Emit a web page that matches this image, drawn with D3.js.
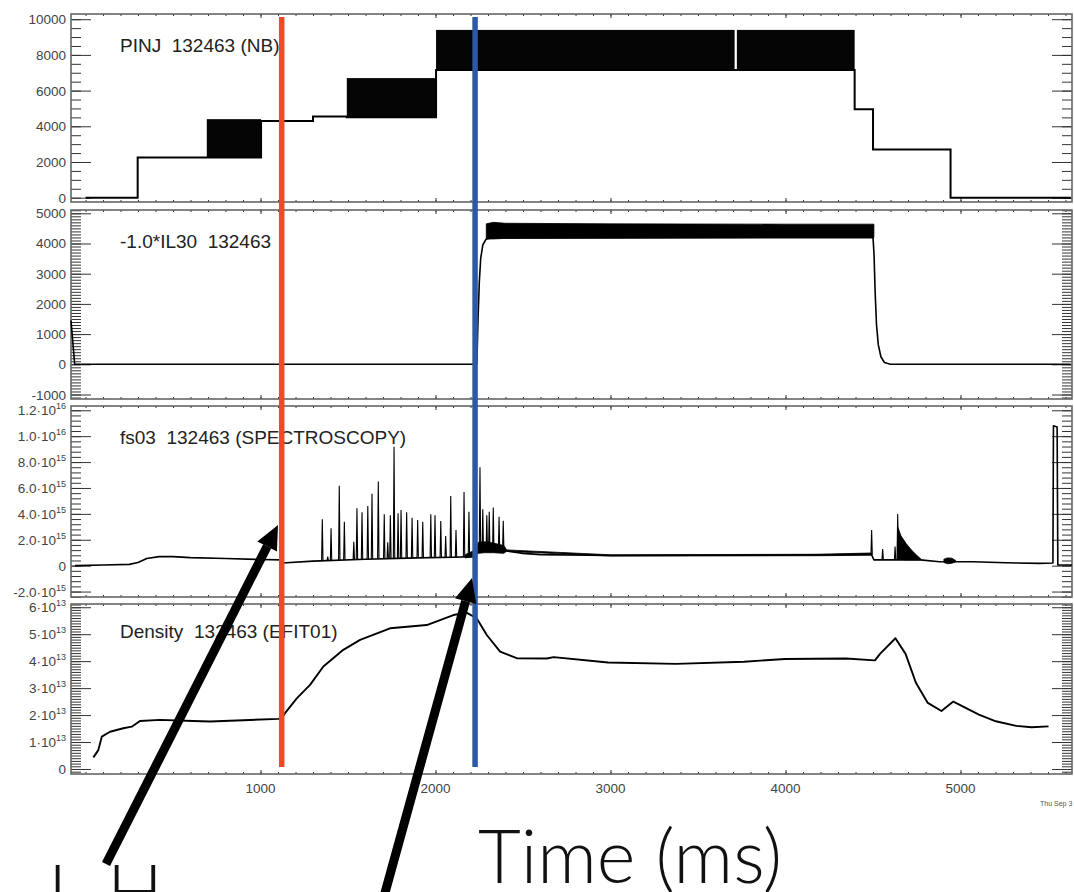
<!DOCTYPE html>
<html>
<head>
<meta charset="utf-8">
<script src="https://cdn.jsdelivr.net/npm/d3@7"></script>
<style>
body { margin: 0; background: #fff; overflow: hidden; }
svg { display: block; font-family: "Liberation Sans", Arial, sans-serif; }
</style>
</head>
<body>
<div id="chart"></div>
<script>
// ---- time axis
var xDomain = [-83, 5637];
var xTickVals = [1000, 2000, 3000, 4000, 5000];
var xTickText = ["1000", "2000", "3000", "4000", "5000"];

// ---- PINJ (NB) : step segments, low == high is a plain step, otherwise a modulated block
var pinjStart = [0, 298, 693, 1003, 1300, 1493, 2003, 3722, 4395, 4500, 4943];
var pinjEnd   = [298, 693, 1003, 1300, 1493, 2003, 3709, 4395, 4500, 4943, 5630];
var pinjLow   = [0, 2250, 2250, 4300, 4550, 4500, 7150, 7150, 4950, 2700, 0];
var pinjHigh  = [0, 2250, 4400, 4300, 4550, 6700, 9400, 9400, 4950, 2700, 0];
var p1TickVals = [0, 2000, 4000, 6000, 8000, 10000];
var p1TickText = ["0", "2000", "4000", "6000", "8000", "10000"];

// ---- -1.0*IL30
var il30T = [-83, -62, 0, 1000, 2000, 2236, 2243, 2250, 2258, 2270, 2290, 2320, 4500, 4506, 4512, 4520, 4530, 4545, 4565, 4600, 5630];
var il30V = [1450, 0, 0, 0, 0, 0, 1500, 2700, 3500, 3950, 4150, 4180, 4200, 3600, 2400, 1300, 650, 250, 60, 0, 0];
var il30BandT  = [2290, 2330, 2400, 3000, 4000, 4505];
var il30BandLo = [4150, 4150, 4170, 4180, 4200, 4200];
var il30BandHi = [4650, 4700, 4670, 4650, 4640, 4640];
var p2TickVals = [-1000, 0, 1000, 2000, 3000, 4000, 5000];
var p2TickText = ["-1000", "0", "1000", "2000", "3000", "4000", "5000"];

// ---- fs03 (SPECTROSCOPY)
var fsT = [-60, 100, 250, 300, 350, 420, 500, 600, 800, 1000, 1118, 1124, 1300, 1600, 1900, 2100, 2226, 2240, 2400, 2500, 2600, 3000, 3500, 4000, 4300, 4490, 4505, 4600, 4770, 4880, 5070, 5260, 5450, 5528, 5531, 5552, 5556, 5637];
var fsV = [0, 0.05e15, 0.1e15, 0.25e15, 0.55e15, 0.7e15, 0.7e15, 0.62e15, 0.55e15, 0.48e15, 0.45e15, 0.2e15, 0.35e15, 0.5e15, 0.6e15, 0.65e15, 0.7e15, 1.2e15, 1.15e15, 0.95e15, 0.85e15, 0.78e15, 0.8e15, 0.82e15, 0.85e15, 0.9e15, 0.45e15, 0.45e15, 0.45e15, 0.3e15, 0.3e15, 0.22e15, 0.18e15, 0.2e15, 1.08e16, 1.07e16, 0.05e15, 0.05e15];
var spikeT = [1353, 1384, 1403, 1450, 1479, 1533, 1551, 1580, 1613, 1637, 1673, 1707, 1727, 1742, 1763, 1786, 1803, 1835, 1866, 1898, 1927, 1973, 1997, 2030, 2058, 2087, 2117, 2163, 2191, 2254, 2270, 2293, 2307, 2330, 2363, 2387, 4492, 4555, 4626, 4641];
var spikePeak = [3.58e15, 0.7e15, 2.89e15, 6.18e15, 3.4e15, 1.85e15, 4.43e15, 4.12e15, 4.61e15, 5.56e15, 6.49e15, 3.97e15, 1.8e15, 3.9e15, 9.19e15, 4.05e15, 4.3e15, 4.12e15, 3.7e15, 3.53e15, 3.4e15, 3.97e15, 3.9e15, 3.45e15, 2.29e15, 5.38e15, 2.76e15, 5.69e15, 4.17e15, 7.6e15, 4.35e15, 3.9e15, 4.17e15, 4.5e15, 3.78e15, 3.47e15, 2.76e15, 1.29e15, 1.47e15, 3.99e15];
var fsBandT  = [2170, 2226, 2245, 2280, 2330, 2390, 2405];
var fsBandLo = [0.6e15, 0.7e15, 0.95e15, 1.0e15, 1.0e15, 0.95e15, 1.1e15];
var fsBandHi = [0.85e15, 1.2e15, 1.8e15, 1.85e15, 1.75e15, 1.55e15, 1.25e15];
var fsDecayT  = [4641, 4660, 4690, 4720, 4750, 4775];
var fsDecayLo = [0.5e15, 0.5e15, 0.45e15, 0.45e15, 0.45e15, 0.45e15];
var fsDecayHi = [3.0e15, 2.3e15, 1.7e15, 1.2e15, 0.8e15, 0.5e15];
var fsBlobT  = [4905, 4925, 4950, 4972];
var fsBlobLo = [0.25e15, 0.15e15, 0.18e15, 0.3e15];
var fsBlobHi = [0.5e15, 0.6e15, 0.58e15, 0.4e15];
var fsNoiseT  = [2400, 3000, 3600, 4200, 4490];
var fsNoiseLo = [1.1e15, 0.74e15, 0.75e15, 0.77e15, 0.8e15];
var fsNoiseHi = [1.22e15, 0.84e15, 0.86e15, 0.88e15, 0.98e15];
var p3TickVals = [-2e15, 0, 2e15, 4e15, 6e15, 8e15, 1e16, 1.2e16];
var p3TickMant = ["-2.0\u00b710", "0", "2.0\u00b710", "4.0\u00b710", "6.0\u00b710", "8.0\u00b710", "1.0\u00b710", "1.2\u00b710"];
var p3TickExp  = ["15", "", "15", "15", "15", "15", "16", "16"];

// ---- Density (EFIT01)
var denT = [45, 73, 93, 140, 216, 264, 311, 426, 616, 711, 902, 1102, 1121, 1140, 1207, 1283, 1359, 1473, 1569, 1740, 1950, 2102, 2177, 2235, 2293, 2369, 2464, 2635, 2675, 2986, 3374, 3763, 3997, 4346, 4511, 4540, 4628, 4686, 4745, 4813, 4891, 4959, 5105, 5202, 5318, 5406, 5503];
var denV = [0.43e13, 0.7e13, 1.2e13, 1.38e13, 1.51e13, 1.57e13, 1.78e13, 1.82e13, 1.78e13, 1.76e13, 1.81e13, 1.86e13, 1.88e13, 2.07e13, 2.62e13, 3.12e13, 3.8e13, 4.42e13, 4.79e13, 5.22e13, 5.34e13, 5.71e13, 5.8e13, 5.59e13, 4.97e13, 4.35e13, 4.11e13, 4.1e13, 4.15e13, 3.95e13, 3.9e13, 3.98e13, 4.08e13, 4.1e13, 4.03e13, 4.27e13, 4.85e13, 4.27e13, 3.2e13, 2.45e13, 2.15e13, 2.5e13, 2.02e13, 1.77e13, 1.6e13, 1.55e13, 1.58e13];
var p4TickVals = [0, 1e13, 2e13, 3e13, 4e13, 5e13, 6e13];
var p4TickMant = ["0", "1\u00b710", "2\u00b710", "3\u00b710", "4\u00b710", "5\u00b710", "6\u00b710"];
var p4TickExp  = ["", "13", "13", "13", "13", "13", "13"];

// ---- markers (L-H transition, blue event)
var markerT = [1121, 2226];
var markerColor = ["#ef4a24", "#2d58a6"];

var W = 1074, H = 892;
var plotL = 71, plotR = 1072;

var svg = d3.select("#chart")
    .append("svg")
    .attr("width", W)
    .attr("height", H);

var x = d3.scaleLinear().domain(xDomain).range([plotL, plotR]);

var panels = [
    { y0: 14,  y1: 202, domain: [-241, 10291],        minor: 500,  vals: p1TickVals, mant: p1TickText, exp: null, label: "PINJ  132463 (NB)", labelY: 52 },
    { y0: 210, y1: 399, domain: [-1149, 5109],        minor: 100,  vals: p2TickVals, mant: p2TickText, exp: null, label: "-1.0*IL30  132463", labelY: 248 },
    { y0: 406, y1: 597, domain: [-2.42e15, 1.233e16], minor: 4e14, vals: p3TickVals, mant: p3TickMant, exp: p3TickExp, label: "fs03  132463 (SPECTROSCOPY)", labelY: 444 },
    { y0: 604, y1: 774, domain: [-1.86e12, 6.12e13], minor: 1e12, vals: p4TickVals, mant: p4TickMant, exp: p4TickExp, label: "Density  132463 (EFIT01)", labelY: 638 }
];

var xMinor = d3.range(0, xDomain[1], 100);

function noDomain(sel) { sel.select(".domain").remove(); }

panels.forEach(function (p) {
    p.y = d3.scaleLinear().domain(p.domain).range([p.y1, p.y0]);
    var g = svg.append("g").attr("class", "frame").attr("color", "#333");
    var minorVals = d3.range(Math.ceil(p.domain[0] / p.minor) * p.minor, p.domain[1], p.minor);

    // y ticks pointing inward, on both sides
    g.append("g").attr("transform", "translate(" + plotL + ",0)")
        .call(d3.axisRight(p.y).tickValues(minorVals).tickSize(10).tickFormat(""))
        .call(noDomain);
    g.append("g").attr("transform", "translate(" + plotL + ",0)")
        .call(d3.axisRight(p.y).tickValues(p.vals).tickSize(20).tickFormat(""))
        .call(noDomain);
    g.append("g").attr("transform", "translate(" + plotR + ",0)")
        .call(d3.axisLeft(p.y).tickValues(minorVals).tickSize(10).tickFormat(""))
        .call(noDomain);
    g.append("g").attr("transform", "translate(" + plotR + ",0)")
        .call(d3.axisLeft(p.y).tickValues(p.vals).tickSize(20).tickFormat(""))
        .call(noDomain);

    // x ticks on top and bottom edges
    g.append("g").attr("transform", "translate(0," + p.y0 + ")")
        .call(d3.axisBottom(x).tickValues(xMinor).tickSize(2).tickFormat(""))
        .call(noDomain);
    g.append("g").attr("transform", "translate(0," + p.y0 + ")")
        .call(d3.axisBottom(x).tickValues(xTickVals).tickSize(4).tickFormat(""))
        .call(noDomain);
    g.append("g").attr("transform", "translate(0," + p.y1 + ")")
        .call(d3.axisTop(x).tickValues(xMinor).tickSize(2).tickFormat(""))
        .call(noDomain);
    g.append("g").attr("transform", "translate(0," + p.y1 + ")")
        .call(d3.axisTop(x).tickValues(xTickVals).tickSize(4).tickFormat(""))
        .call(noDomain);

    p.vals.forEach(function (v, i) {
        var t = g.append("text")
            .attr("x", 66)
            .attr("y", p.y(v) + 5)
            .attr("text-anchor", "end")
            .attr("font-size", 13.5)
            .attr("fill", "#444");
        t.append("tspan").text(p.mant[i]);
        if (p.exp && p.exp[i]) {
            t.append("tspan").attr("font-size", 9).attr("dy", -6).text(p.exp[i]);
        }
    });

    g.append("rect")
        .attr("x", plotL).attr("y", p.y0)
        .attr("width", plotR - plotL).attr("height", p.y1 - p.y0)
        .attr("fill", "none").attr("stroke", "#666").attr("stroke-width", 1.6);

    g.append("text")
        .attr("x", 120)
        .attr("y", p.labelY)
        .attr("font-size", 19)
        .attr("fill", "#222")
        .style("white-space", "pre")
        .text(p.label);
});

// x tick labels under the last panel
xTickVals.forEach(function (v, i) {
    svg.append("text")
        .attr("x", x(v))
        .attr("y", 793)
        .attr("text-anchor", "middle")
        .attr("font-size", 13.5)
        .attr("fill", "#444")
        .text(xTickText[i]);
});

svg.append("text")
    .attr("x", 1040)
    .attr("y", 806)
    .attr("font-size", 7)
    .attr("fill", "#555")
    .text("Thu Sep 3");

function zip(ts, vs) {
    return ts.map(function (t, i) { return [t, vs[i]]; });
}

function drawLine(p, ts, vs, w) {
    var line = d3.line().x(function (d) { return x(d[0]); }).y(function (d) { return p.y(d[1]); });
    svg.append("path")
        .datum(zip(ts, vs))
        .attr("d", line)
        .attr("fill", "none")
        .attr("stroke", "#000")
        .attr("stroke-width", w)
        .attr("stroke-linejoin", "round");
}

function drawBand(p, ts, lo, hi) {
    var area = d3.area()
        .x(function (d) { return x(d[0]); })
        .y0(function (d) { return p.y(d[1]); })
        .y1(function (d) { return p.y(d[2]); });
    svg.append("path")
        .datum(ts.map(function (t, i) { return [t, lo[i], hi[i]]; }))
        .attr("d", area)
        .attr("fill", "#000")
        .attr("stroke", "#000")
        .attr("stroke-width", 0.8);
}

// panel 1 : PINJ
var p1 = panels[0];
pinjStart.forEach(function (s, i) {
    if (pinjHigh[i] !== pinjLow[i]) {
        svg.append("rect")
            .attr("x", x(s))
            .attr("y", p1.y(pinjHigh[i]))
            .attr("width", x(pinjEnd[i]) - x(s))
            .attr("height", p1.y(pinjLow[i]) - p1.y(pinjHigh[i]))
            .attr("fill", "#050505");
    }
});
var stepPts = [];
pinjStart.forEach(function (s, i) {
    stepPts.push([s, pinjLow[i]]);
    stepPts.push([pinjEnd[i], pinjLow[i]]);
});
svg.append("path")
    .datum(stepPts)
    .attr("d", d3.line().x(function (d) { return x(d[0]); }).y(function (d) { return p1.y(d[1]); }))
    .attr("fill", "none")
    .attr("stroke", "#000")
    .attr("stroke-width", 2);

// panel 2 : IL30
var p2 = panels[1];
drawBand(p2, il30BandT, il30BandLo, il30BandHi);
drawLine(p2, il30T, il30V, 1.6);

// panel 3 : fs03
var p3 = panels[2];
drawBand(p3, fsNoiseT, fsNoiseLo, fsNoiseHi);
drawBand(p3, fsBandT, fsBandLo, fsBandHi);
drawBand(p3, fsDecayT, fsDecayLo, fsDecayHi);
drawBand(p3, fsBlobT, fsBlobLo, fsBlobHi);
drawLine(p3, fsT, fsV, 1.6);
var bisect = d3.bisector(function (d) { return d; }).left;
function baseAt(t) {
    var i = Math.max(1, Math.min(fsT.length - 1, bisect(fsT, t)));
    var k = (t - fsT[i - 1]) / (fsT[i] - fsT[i - 1]);
    return fsV[i - 1] + k * (fsV[i] - fsV[i - 1]);
}
spikeT.forEach(function (t, i) {
    var b = p3.y(baseAt(t));
    svg.append("path")
        .attr("d", "M" + x(t - 4) + "," + b + "L" + x(t) + "," + p3.y(spikePeak[i]) + "L" + x(t + 4) + "," + b)
        .attr("fill", "none")
        .attr("stroke", "#000")
        .attr("stroke-width", 1.1);
});

// panel 4 : density
var p4 = panels[3];
drawLine(p4, denT, denV, 1.9);

// marker lines
markerT.forEach(function (t, i) {
    svg.append("line")
        .attr("x1", x(t)).attr("x2", x(t))
        .attr("y1", 17).attr("y2", 767)
        .attr("stroke", markerColor[i])
        .attr("stroke-width", 5.5);
});

// annotation arrows
function arrow(xa, ya, xb, yb) {
    var ang = Math.atan2(yb - ya, xb - xa);
    var len = 24, half = 11;
    var bx = xb - len * Math.cos(ang), by = yb - len * Math.sin(ang);
    svg.append("line")
        .attr("x1", xa).attr("y1", ya).attr("x2", bx).attr("y2", by)
        .attr("stroke", "#000").attr("stroke-width", 9);
    svg.append("path")
        .attr("d", "M" + xb + "," + yb +
            "L" + (bx + half * Math.sin(ang)) + "," + (by - half * Math.cos(ang)) +
            "L" + (bx - half * Math.sin(ang)) + "," + (by + half * Math.cos(ang)) + "Z")
        .attr("fill", "#000");
}
arrow(106, 864, 278, 525);
arrow(383, 900, 472, 578);

// big annotation text
svg.append("text")
    .attr("x", 478)
    .attr("y", 883)
    .attr("font-family", "Lato, 'Open Sans', sans-serif")
    .attr("font-weight", 300)
    .attr("font-size", 74)
    .attr("fill", "#111")
    .text("Time (ms)");

svg.append("text")
    .attr("x", 48)
    .attr("y", 918)
    .attr("font-family", "Lato, 'Open Sans', sans-serif")
    .attr("font-weight", 300)
    .attr("font-size", 74)
    .attr("fill", "#111")
    .text("L-H");
</script>
</body>
</html>
